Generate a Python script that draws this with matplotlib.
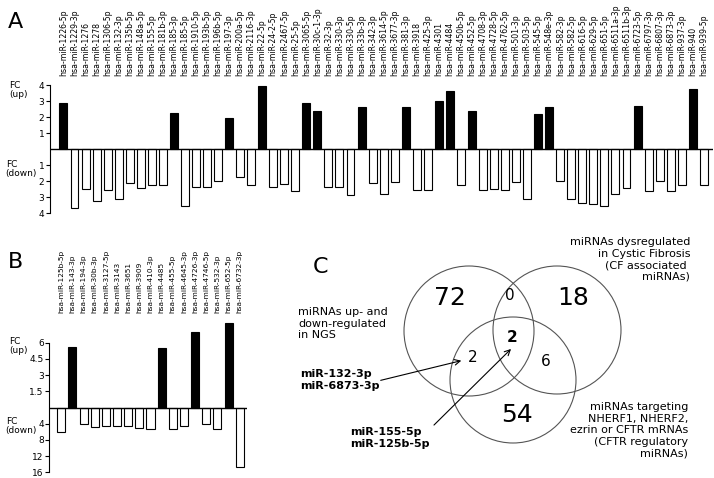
import matplotlib
matplotlib.use("Agg")
import matplotlib.pyplot as plt
from matplotlib.patches import Circle

W, H = 714, 478

# panel A: fold change, up = positive, down = negative
a_names = ["1226-5p", "1229-3p", "1276", "1278", "1306-5p", "132-3p", "135b-5p",
           "148a-5p", "155-5p", "181b-3p", "185-3p", "185-5p", "1910-5p", "193b-5p",
           "196b-5p", "197-3p", "200a-5p", "2116-3p", "22-5p", "24-2-5p", "2467-5p",
           "25-5p", "3065-5p", "30c-1-3p", "32-3p", "330-3p", "330-5p", "33b-3p",
           "342-3p", "3614-5p", "3677-3p", "381-3p", "3918", "425-3p", "4301", "4484",
           "450b-5p", "452-5p", "4708-3p", "4728-5p", "4762-5p", "501-3p", "503-5p",
           "545-5p", "548e-3p", "582-3p", "582-5p", "616-5p", "629-5p", "651-5p",
           "6511a-3p", "6511b-3p", "6723-5p", "6797-3p", "6807-3p", "6873-3p",
           "937-3p", "940", "939-5p"]
a_fc = [2.9, -3.64, -2.47, -3.23, -2.54, -3.1, -2.08, -2.42, -2.25, -2.25,
        2.24, -3.56, -2.37, -2.37, -1.96, 1.97, -1.71, -2.25, 3.94, -2.37,
        -2.17, -2.58, 2.9, 2.38, -2.37, -2.33, -2.87, 2.6, -2.12, -2.79,
        -2.06, 2.65, -2.54, -2.54, 2.98, 3.6, -2.25, 2.38, -2.54, -2.48,
        -2.54, -2.02, -3.08, 2.22, 2.65, -1.96, -3.1, -3.37, -3.42, -3.54,
        -2.79, -2.4, 2.69, -2.58, -1.96, -2.58, -2.23, 3.73, -2.25]

# panel B
b_names = ["125b-5p", "143-3p", "194-3p", "30b-3p", "3127-5p", "3143", "3651",
           "3909", "410-3p", "4485", "455-5p", "4645-3p", "4726-3p", "4746-5p",
           "532-3p", "652-5p", "6732-3p"]
b_fc = [-6.0, 5.6, -4.1, -4.75, -4.6, -4.6, -4.6, -5.0, -5.4, 5.5,
        -5.4, -4.6, 7.0, -4.1, -5.4, 7.8, -14.6]
b_up_ticks = [1.5, 3, 4.5, 6]
b_down_ticks = [4, 8, 12, 16]
b_down_scale = 6.0 / 16.0

# panel C: venn numbers
venn_counts = ["72", "18", "54", "0", "2", "2", "6"]

plt.rcParams['font.family'] = 'DejaVu Sans'
fig = plt.figure(figsize=(W / 100, H / 100), dpi=100)


def px_axes(l, t, r, b):
    return fig.add_axes([l / W, 1 - b / H, (r - l) / W, (b - t) / H])


def bar_panel(ax, names, vals, fontsize, pad):
    x = list(range(len(vals)))
    cols = ['black' if v > 0 else 'white' for v in vals]
    ax.bar(x, vals, width=0.72, color=cols, edgecolor='black', linewidth=0.8, zorder=2)
    ax.axhline(0, color='black', lw=1.0, zorder=3)
    for s in ['top', 'right', 'bottom']:
        ax.spines[s].set_visible(False)
    ax.spines['left'].set_linewidth(0.8)
    ax.xaxis.tick_top()
    ax.set_xticks(x)
    ax.set_xticklabels(["hsa-miR-" + n for n in names], rotation=90, fontsize=fontsize)
    ax.tick_params(axis='x', length=0, pad=pad)
    ax.tick_params(axis='y', length=3, width=0.8, labelsize=6.5, pad=1)
    ax.patch.set_alpha(0)


# ---- A
axA = px_axes(50, 83.4, 712.6, 214.9)
bar_panel(axA, a_names, a_fc, 5.6, 5)
axA.set_xlim(-1.22, 58.8)
axA.set_ylim(-4.1, 4.1)
axA.spines['left'].set_bounds(-4, 4)
axA.set_yticks([-4, -3, -2, -1, 1, 2, 3, 4])
axA.set_yticklabels(['4', '3', '2', '1', '1', '2', '3', '4'])

# ---- B
b_plot = [v if v > 0 else v * b_down_scale for v in b_fc]
axB = px_axes(49.3, 318.9, 246.7, 474.5)
bar_panel(axB, b_names, b_plot, 5.3, 4)
axB.set_xlim(-1.08, 16.63)
axB.set_ylim(-6.2, 8.2)
axB.spines['left'].set_bounds(-6, 6)
axB.set_yticks([-t * b_down_scale for t in b_down_ticks] + b_up_ticks)
axB.set_yticklabels([str(t) for t in b_down_ticks] + [str(t) for t in b_up_ticks])

# ---- overlay (pixel coords) for C and free text
ov = fig.add_axes([0, 0, 1, 1], zorder=-1)
ov.set_xlim(0, W)
ov.set_ylim(H, 0)
ov.axis('off')

ov.text(8, 28, "A", fontsize=16, va='baseline')
ov.text(8, 268, "B", fontsize=16, va='baseline')
ov.text(313, 273, "C", fontsize=16, va='baseline')

for y1, y2 in [(87.5, 96.5), (344, 353)]:
    ov.text(9, y1, "FC", fontsize=6.5, va='baseline')
    ov.text(9, y2, "(up)", fontsize=6.5, va='baseline')
for y1, y2 in [(167, 176), (424, 433)]:
    ov.text(6, y1, "FC", fontsize=6.5, va='baseline')
    ov.text(5, y2, "(down)", fontsize=6.5, va='baseline')

# venn circles
for cx, cy, r in [(469, 331, 65), (557, 330, 64), (513, 380, 63)]:
    ov.add_patch(Circle((cx, cy), r, fill=False, edgecolor='#555555', lw=0.8))

pos = [(450, 298, 18, 'normal'), (573, 298, 18, 'normal'), (517, 415, 18, 'normal'),
       (510, 295, 11, 'normal'), (512, 337, 11, 'bold'), (473, 358, 11, 'normal'),
       (546, 361, 11, 'normal')]
for s, (x, y, fs, fw) in zip(venn_counts, pos):
    ov.text(x, y, s, fontsize=fs, fontweight=fw, ha='center', va='center')

ov.text(298, 307, "miRNAs up- and\ndown-regulated\nin NGS", fontsize=8,
        va='top', ha='left', linespacing=1.2)
ov.text(690, 237, "miRNAs dysregulated\nin Cystic Fibrosis\n(CF associated \nmiRNAs)",
        fontsize=8, va='top', ha='right', multialignment='right', linespacing=1.2)
ov.text(688, 402, "miRNAs targeting\nNHERF1, NHERF2,\nezrin or CFTR mRNAs\n(CFTR regulatory\nmiRNAs)",
        fontsize=8, va='top', ha='right', multialignment='right', linespacing=1.2)
ov.text(300, 369, "miR-132-3p\nmiR-6873-3p", fontsize=8, fontweight='bold',
        va='top', ha='left', linespacing=1.3)
ov.text(350, 427, "miR-155-5p\nmiR-125b-5p", fontsize=8, fontweight='bold',
        va='top', ha='left', linespacing=1.3)

ov.annotate("", xy=(464, 360), xytext=(378, 381),
            arrowprops=dict(arrowstyle='->', lw=0.8, color='black'))
ov.annotate("", xy=(513, 347), xytext=(432, 427),
            arrowprops=dict(arrowstyle='->', lw=0.8, color='black'))

fig.savefig("out.png", dpi=100)
